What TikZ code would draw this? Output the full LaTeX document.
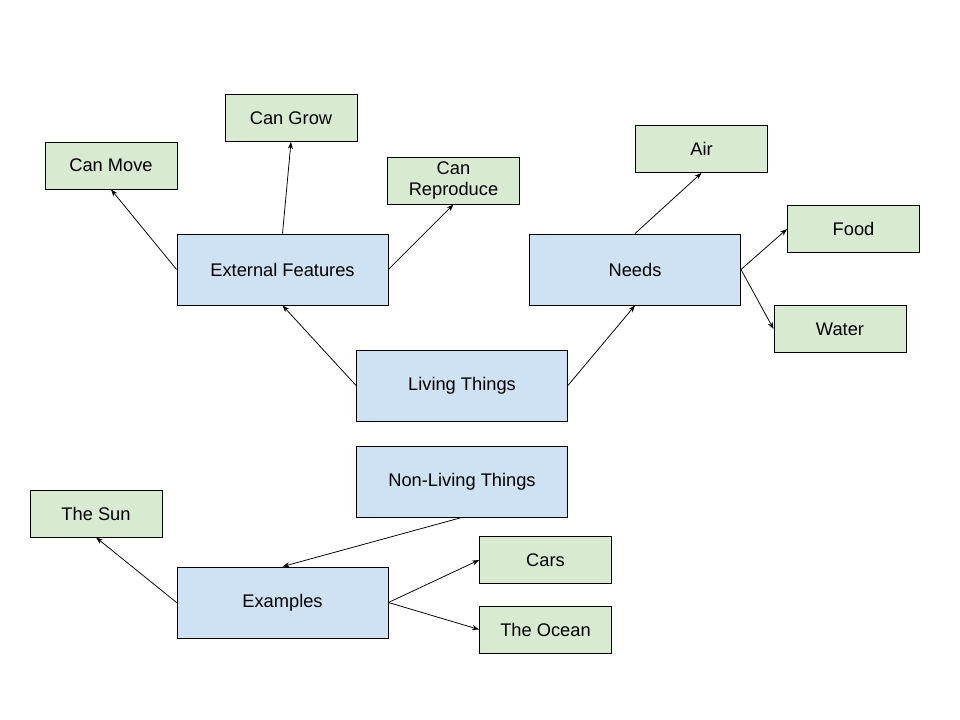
\documentclass[tikz,border=0pt]{standalone}
\usepackage{fontspec}
\setmainfont{Liberation Sans}
\usetikzlibrary{arrows.meta}
\definecolor{topicblue}{HTML}{CFE2F3}
\definecolor{leafgreen}{HTML}{D9EAD3}
\begin{document}
\begin{tikzpicture}[
        x=0.025cm, y=-0.025cm,
        >={Stealth[length=5pt,width=3.6pt]},
        topic/.style={rectangle, draw, line width=0.6pt, fill=topicblue, minimum width=5.275cm, minimum height=1.775cm, inner sep=0pt, font=\fontsize{13}{15.6}\selectfont},
        leaf/.style={rectangle, draw, line width=0.6pt, fill=leafgreen, minimum width=3.3cm, minimum height=1.175cm, inner sep=0pt, align=center, font=\fontsize{13}{15.6}\selectfont},
        link/.style={->, line width=0.55pt}
    ]
    \useasboundingbox (0,0) rectangle (960,720);

    % Temas
    \node[topic] (external) at (282.5,269.5) {External Features};
    \node[topic] (needs) at (635,269.5) {Needs};
    \node[topic] (living) at (462,385.5) {Living Things};
    \node[topic] (nonliving) at (462,481.5) {Non-Living Things};
    \node[topic] (examples) at (282.5,602.5) {Examples};

    % Hojas
    \node[leaf] (grow) at (291,118) {Can Grow};
    \node[leaf] (move) at (111,165.5) {Can Move};
    \node[leaf] (reproduce) at (453.5,180.5) {Can\\Reproduce};
    \node[leaf] (air) at (701.5,149) {Air};
    \node[leaf] (food) at (853.5,229) {Food};
    \node[leaf] (water) at (840,329) {Water};
    \node[leaf] (sun) at (96,513.5) {The Sun};
    \node[leaf] (cars) at (545.5,560) {Cars};
    \node[leaf] (ocean) at (545.5,629.5) {The Ocean};

    % Conexiones
    \draw[link] (living.west) -- (external.south);
    \draw[link] (living.east) -- (needs.south);
    \draw[link] (external.west) -- (move.south);
    \draw[link] (external.north) -- (grow.south);
    \draw[link] (external.east) -- (reproduce.south);
    \draw[link] (needs.north) -- (air.south);
    \draw[link] (needs.east) -- (food.west);
    \draw[link] (needs.east) -- (water.west);
    \draw[link] (nonliving.south) -- (examples.north);
    \draw[link] (examples.west) -- (sun.south);
    \draw[link] (examples.east) -- (cars.west);
    \draw[link] (examples.east) -- (ocean.west);

\end{tikzpicture}
\end{document}
